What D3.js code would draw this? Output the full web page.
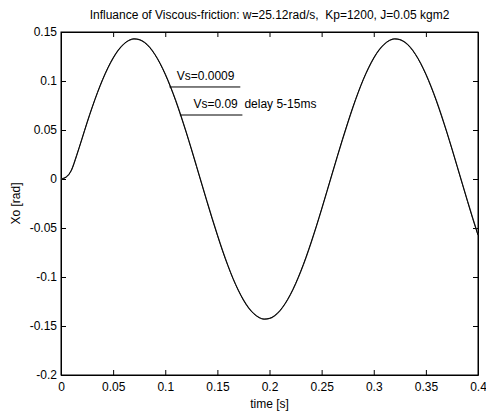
<!DOCTYPE html>
<html>
<head>
<meta charset="utf-8">
<script src="https://cdn.jsdelivr.net/npm/d3@7"></script>
<style>
  body { margin: 0; background: #fff; }
  text { font-family: "Liberation Sans", Arial, sans-serif; fill: #000; }
</style>
</head>
<body>
<div id="chart"></div>
<script>
// SVG size
var svgWidth = 486;
var svgHeight = 416;

var margin = { top: 32, right: 8, bottom: 41, left: 61 };
var width = svgWidth - margin.left - margin.right;
var height = svgHeight - margin.top - margin.bottom;

// Data (t in s, Xo in rad), step 0.005 s
var timeValues = d3.range(81).map(i => +(i * 0.005).toFixed(3));

var xoLowVs = [
  0, 0.002, 0.009, 0.024, 0.0407, 0.0576, 0.0735, 0.0883, 0.1017, 0.1135,
  0.1235, 0.1316, 0.1376, 0.1414, 0.1430, 0.1423, 0.1394, 0.1343, 0.1271, 0.1179,
  0.1068, 0.0941, 0.0799, 0.0644, 0.0479, 0.0306, 0.0128, -0.0052, -0.0230, -0.0405,
  -0.0573, -0.0734, -0.0882, -0.1017, -0.1134, -0.1235, -0.1316, -0.1375, -0.1414, -0.1430,
  -0.1423, -0.1394, -0.1343, -0.1271, -0.1179, -0.1068, -0.0941, -0.0799, -0.0644, -0.0479,
  -0.0306, -0.0128, 0.0052, 0.0230, 0.0405, 0.0573, 0.0734, 0.0882, 0.1017, 0.1134,
  0.1235, 0.1316, 0.1375, 0.1414, 0.1430, 0.1423, 0.1394, 0.1343, 0.1271, 0.1179,
  0.1068, 0.0941, 0.0799, 0.0644, 0.0479, 0.0306, 0.0128, -0.0052, -0.0230, -0.0405,
  -0.0573
];

var xoHighVs = [
  0, 0.002, 0.009, 0.024, 0.0405, 0.0574, 0.0733, 0.0881, 0.1015, 0.1133,
  0.1233, 0.1314, 0.1374, 0.1413, 0.1429, 0.1423, 0.1395, 0.1345, 0.1273, 0.1182,
  0.1071, 0.0944, 0.0803, 0.0648, 0.0483, 0.0310, 0.0132, -0.0048, -0.0226, -0.0401,
  -0.0569, -0.0730, -0.0879, -0.1014, -0.1132, -0.1233, -0.1314, -0.1374, -0.1413, -0.1429,
  -0.1423, -0.1395, -0.1345, -0.1273, -0.1182, -0.1071, -0.0944, -0.0803, -0.0648, -0.0483,
  -0.0310, -0.0132, 0.0048, 0.0226, 0.0401, 0.0569, 0.0730, 0.0879, 0.1014, 0.1132,
  0.1233, 0.1314, 0.1374, 0.1413, 0.1429, 0.1423, 0.1395, 0.1345, 0.1273, 0.1182,
  0.1071, 0.0944, 0.0803, 0.0648, 0.0483, 0.0310, 0.0132, -0.0048, -0.0226, -0.0401,
  -0.0569
];

var xTicks = [0, 0.05, 0.1, 0.15, 0.2, 0.25, 0.3, 0.35, 0.4];
var yTicks = [-0.2, -0.15, -0.1, -0.05, 0, 0.05, 0.1, 0.15];

var titleText = "Influance of Viscous-friction: w=25.12rad/s,  Kp=1200, J=0.05 kgm2";

// Annotations: label, point on the curve (t), underline end (t), y of the line (value)
var notes = [
  { label: "Vs=0.0009", t0: 0.104, t1: 0.172, v: 0.0939, tx: 0.111 },
  { label: "Vs=0.09  delay 5-15ms", t0: 0.114, t1: 0.174, v: 0.0653, tx: 0.127 }
];

var svg = d3.select("#chart")
  .append("svg")
  .attr("width", svgWidth)
  .attr("height", svgHeight);

var chartGroup = svg.append("g")
  .attr("transform", `translate(${margin.left}, ${margin.top})`);

var xScale = d3.scaleLinear().domain([0, 0.4]).range([0, width]);
var yScale = d3.scaleLinear().domain([-0.2, 0.15]).range([height, 0]);

// Axes (ticks pointing inward, on all four sides)
var fmt = d => (d === 0 ? "0" : String(d));

chartGroup.append("g")
  .attr("transform", `translate(0, ${height})`)
  .call(d3.axisBottom(xScale).tickValues(xTicks).tickFormat(fmt).tickSizeInner(-5).tickSizeOuter(0).tickPadding(7));

chartGroup.append("g")
  .call(d3.axisLeft(yScale).tickValues(yTicks).tickFormat(fmt).tickSizeInner(-5).tickSizeOuter(0).tickPadding(4));

chartGroup.append("g")
  .call(d3.axisTop(xScale).tickValues(xTicks).tickFormat("").tickSizeInner(-5).tickSizeOuter(0));

chartGroup.append("g")
  .attr("transform", `translate(${width}, 0)`)
  .call(d3.axisRight(yScale).tickValues(yTicks).tickFormat("").tickSizeInner(-5).tickSizeOuter(0));

chartGroup.selectAll(".domain").attr("stroke", "#000");
chartGroup.selectAll(".tick line").attr("stroke", "#000");
chartGroup.selectAll(".tick text")
  .style("font-size", "12px")
  .style("font-family", "'Liberation Sans', Arial, sans-serif")
  .attr("fill", "#000");

// Box
chartGroup.append("rect")
  .attr("width", width)
  .attr("height", height)
  .attr("fill", "none")
  .attr("stroke", "#000");

// Lines
var line = d3.line()
  .x((d, i) => xScale(timeValues[i]))
  .y(d => yScale(d))
  .curve(d3.curveMonotoneX);

chartGroup.append("path")
  .datum(xoHighVs)
  .attr("d", line)
  .attr("fill", "none")
  .attr("stroke", "#555")
  .attr("stroke-width", 1.2);

chartGroup.append("path")
  .datum(xoLowVs)
  .attr("d", line)
  .attr("fill", "none")
  .attr("stroke", "#000")
  .attr("stroke-width", 1);

// Annotations
notes.forEach(function(n) {
  chartGroup.append("line")
    .attr("x1", xScale(n.t0))
    .attr("x2", xScale(n.t1))
    .attr("y1", yScale(n.v))
    .attr("y2", yScale(n.v))
    .attr("stroke", "#000");

  chartGroup.append("text")
    .attr("x", xScale(n.tx))
    .attr("y", yScale(n.v) - 7)
    .style("font-size", "12px")
    .style("white-space", "pre")
    .attr("xml:space", "preserve")
    .text(n.label);
});

// Title
svg.append("text")
  .attr("x", margin.left + width / 2)
  .attr("y", 19)
  .attr("text-anchor", "middle")
  .style("font-size", "12px")
  .style("white-space", "pre")
  .text(titleText);

// Axis labels
svg.append("text")
  .attr("x", margin.left + width / 2)
  .attr("y", 408)
  .attr("text-anchor", "middle")
  .style("font-size", "12px")
  .text("time [s]");

svg.append("text")
  .attr("transform", `translate(20, ${margin.top + height / 2}) rotate(-90)`)
  .attr("text-anchor", "middle")
  .style("font-size", "12px")
  .text("Xo [rad]");
</script>
</body>
</html>
